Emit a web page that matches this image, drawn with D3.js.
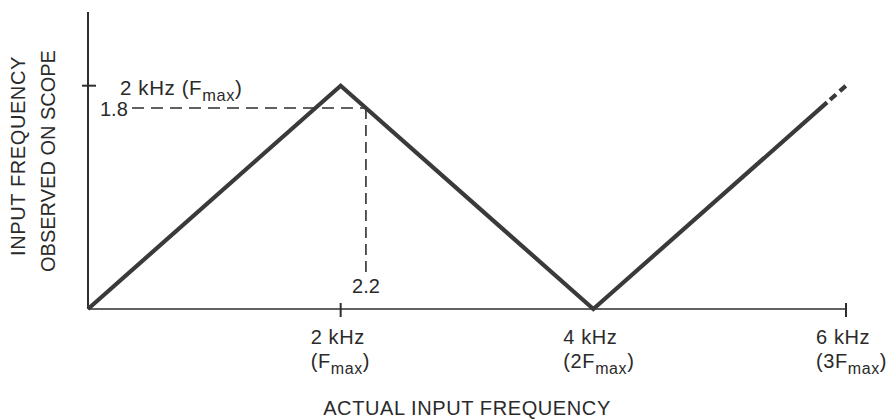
<!DOCTYPE html>
<html>
<head>
<meta charset="utf-8">
<script src="https://cdn.jsdelivr.net/npm/d3@7"></script>
<style>
  html, body { margin: 0; padding: 0; background: #fff; }
  svg { display: block; }
  text { font-family: "Liberation Sans", Arial, Helvetica, sans-serif; fill: #2a2a2a; }
</style>
</head>
<body>
<svg id="chart" width="896" height="420"></svg>
<script>
// Folding of the observed frequency vs. actual input frequency (kHz)
const actualFreq   = [0, 2, 4, 5.85];      // solid segment vertices
const observedFreq = [0, 2, 0, 1.85];
const extActual    = [5.85, 6.03];         // dashed continuation
const extObserved  = [1.85, 2.03];

const xTickValues = [2, 4, 6];
const xTickMain   = ["2 kHz", "4 kHz", "6 kHz"];
const xTickPrefix = ["(F", "(2F", "(3F"];
const xTickMarks  = [2, 6];

const yTickValue  = 2;
const yTickMain   = "2 kHz (F";
const subText     = "max";

const refObserved = 1.8;   // horizontal guide
const refActual   = 2.2;   // vertical guide
const refLabelY   = "1.8";
const refLabelX   = "2.2";

const xTitle  = "ACTUAL INPUT FREQUENCY";
const yTitle1 = "INPUT FREQUENCY";
const yTitle2 = "OBSERVED ON SCOPE";

const svg = d3.select("#chart");
const x = d3.scaleLinear().domain([0, 6]).range([88, 846]);
const y = d3.scaleLinear().domain([0, 2.66]).range([309, 12]);

const ink = "#2e2e2e";

// axes
svg.append("line")
  .attr("x1", x(0)).attr("x2", x(0)).attr("y1", y(0)).attr("y2", y(2.66))
  .attr("stroke", ink).attr("stroke-width", 2);
svg.append("line")
  .attr("x1", x(0)).attr("x2", x(6)).attr("y1", y(0)).attr("y2", y(0))
  .attr("stroke", ink).attr("stroke-width", 1.6);

// x tick marks
svg.selectAll(".xtick").data(xTickMarks).join("line")
  .attr("x1", d => x(d)).attr("x2", d => x(d))
  .attr("y1", y(0) - 6).attr("y2", y(0) + 8)
  .attr("stroke", ink).attr("stroke-width", 2);

// y tick mark
svg.append("line")
  .attr("x1", x(0) - 6).attr("x2", x(0) + 8)
  .attr("y1", y(yTickValue)).attr("y2", y(yTickValue))
  .attr("stroke", ink).attr("stroke-width", 2);

// text with a subscript "max" and a closing paren
function subLabel(g, px, py, main, size) {
  const t = g.append("text").attr("x", px).attr("y", py)
    .attr("font-size", size).attr("letter-spacing", 0.6);
  t.append("tspan").text(main);
  t.append("tspan").attr("font-size", size * 0.8).attr("dy", 6).text(subText);
  t.append("tspan").attr("dy", -6).text(")");
  return t;
}

// x tick labels
xTickValues.forEach((v, i) => {
  const g = svg.append("g");
  g.append("text").attr("x", x(v) - 30).attr("y", y(0) + 35)
    .attr("font-size", 20).attr("letter-spacing", 0.6).text(xTickMain[i]);
  subLabel(g, x(v) - 30, y(0) + 59, xTickPrefix[i], 20);
});

// y tick label
subLabel(svg, x(0) + 32, y(yTickValue) + 9, yTickMain, 20.5);

// dashed reference guides
svg.append("line")
  .attr("x1", x(0) + 44).attr("x2", x(refActual))
  .attr("y1", y(refObserved)).attr("y2", y(refObserved))
  .attr("stroke", ink).attr("stroke-width", 1.6)
  .attr("stroke-dasharray", "12,7");
svg.append("line")
  .attr("x1", x(refActual)).attr("x2", x(refActual))
  .attr("y1", y(refObserved)).attr("y2", y(0) - 36)
  .attr("stroke", ink).attr("stroke-width", 1.6)
  .attr("stroke-dasharray", "11,6");
svg.append("text").attr("x", x(0) + 12).attr("y", y(refObserved) + 8)
  .attr("font-size", 20).text(refLabelY);
svg.append("text").attr("x", x(refActual)).attr("y", y(0) - 16)
  .attr("font-size", 20).attr("text-anchor", "middle").text(refLabelX);

// main triangle trace
const line = d3.line().x(d => x(d[0])).y(d => y(d[1]));
svg.append("path")
  .datum(d3.zip(actualFreq, observedFreq))
  .attr("d", line)
  .attr("fill", "none").attr("stroke", "#3a3a3a").attr("stroke-width", 4.2)
  .attr("stroke-linejoin", "miter");
svg.append("path")
  .datum(d3.zip(extActual, extObserved))
  .attr("d", line)
  .attr("fill", "none").attr("stroke", "#3a3a3a").attr("stroke-width", 4.2)
  .attr("stroke-dasharray", "0,4,8,5,8,20");

// axis titles
svg.append("text").attr("x", (x(0) + x(6)) / 2).attr("y", 415)
  .attr("text-anchor", "middle").attr("font-size", 20).attr("letter-spacing", 0.6)
  .text(xTitle);
svg.append("text").attr("transform", "translate(25,156) rotate(-90)")
  .attr("text-anchor", "middle").attr("font-size", 20).attr("letter-spacing", 0.6)
  .text(yTitle1);
svg.append("text").attr("transform", "translate(55,161) rotate(-90)")
  .attr("text-anchor", "middle").attr("font-size", 20).attr("letter-spacing", 0)
  .text(yTitle2);
</script>
</body>
</html>
